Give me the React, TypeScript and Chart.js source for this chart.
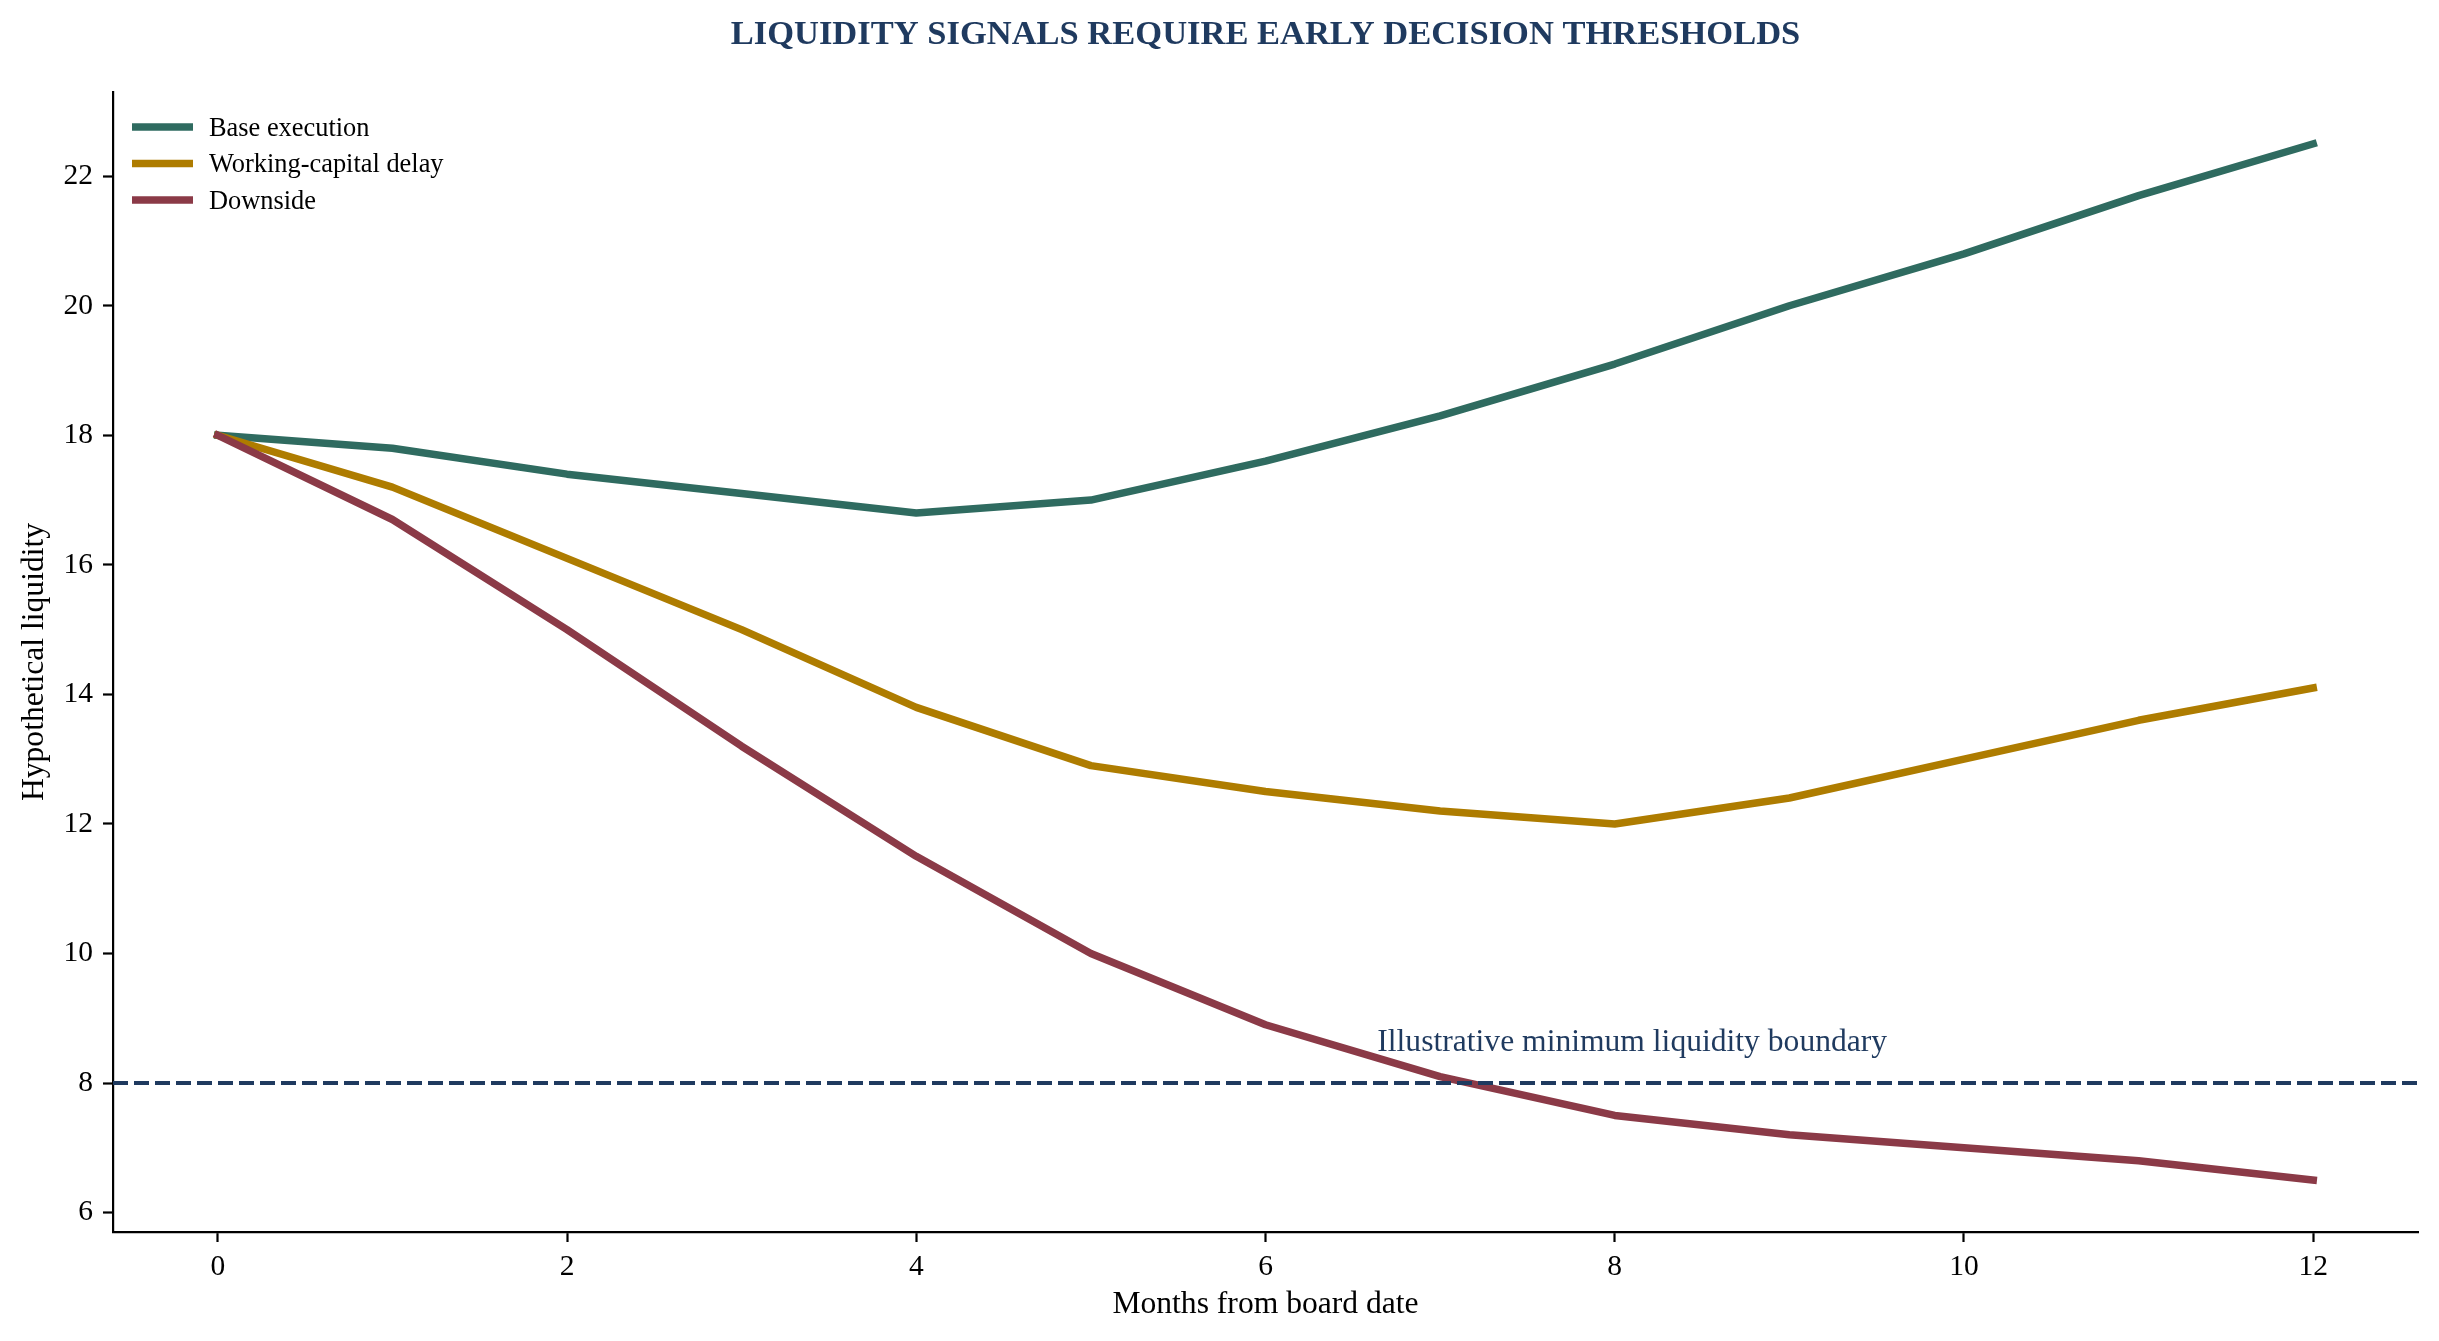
import React, { useEffect, useRef } from "react";
import { Chart, registerables } from "chart.js";

Chart.register(...registerables);

const months = [0, 1, 2, 3, 4, 5, 6, 7, 8, 9, 10, 11, 12];
const baseExecution = [18.0, 17.8, 17.4, 17.1, 16.8, 17.0, 17.6, 18.3, 19.1, 20.0, 20.8, 21.7, 22.5];
const workingCapitalDelay = [18.0, 17.2, 16.1, 15.0, 13.8, 12.9, 12.5, 12.2, 12.0, 12.4, 13.0, 13.6, 14.1];
const downside = [18.0, 16.7, 15.0, 13.2, 11.5, 10.0, 8.9, 8.1, 7.5, 7.2, 7.0, 6.8, 6.5];
const seriesNames = ["Base execution", "Working-capital delay", "Downside"];
const seriesColors = ["#2f6b60", "#ae7c00", "#8b3a47"];
const xTicks = [0, 2, 4, 6, 8, 10, 12];
const yTicks = [6, 8, 10, 12, 14, 16, 18, 20, 22];
const xRange = [-0.6, 12.6];
const yRange = [5.7, 23.3];
const threshold = 8;
const thresholdLabel = "Illustrative minimum liquidity boundary";
const thresholdLabelPos = [8.1, 8.5];
const titleText = "LIQUIDITY SIGNALS REQUIRE EARLY DECISION THRESHOLDS";
const xTitle = "Months from board date";
const yTitle = "Hypothetical liquidity";

const NAVY = "#1f3a5f";
const FONT = "'Liberation Serif', 'Times New Roman', serif";

export default function App() {
  const ref = useRef<HTMLCanvasElement | null>(null);

  useEffect(() => {
    document.body.style.margin = "0";
    document.body.style.overflow = "hidden";
    const canvas = ref.current;
    if (!canvas) return;

    const toPts = (vals: number[]) => vals.map((y, i) => ({ x: months[i], y }));

    const textPlugin = {
      id: "textPlugin",
      afterDraw(chart: any) {
        const ctx = chart.ctx;
        const area = chart.chartArea;
        const xs = chart.scales.x;
        const ys = chart.scales.y;
        ctx.save();
        // title
        ctx.fillStyle = NAVY;
        ctx.font = `bold 34.5px ${FONT}`;
        ctx.textAlign = "center";
        ctx.textBaseline = "alphabetic";
        ctx.fillText(titleText, (area.left + area.right) / 2, 44);
        // axis titles
        ctx.fillStyle = "#000";
        ctx.font = `31.6px ${FONT}`;
        ctx.fillText(xTitle, (area.left + area.right) / 2, 1313);
        ctx.save();
        ctx.translate(43, (area.top + area.bottom) / 2);
        ctx.rotate(-Math.PI / 2);
        ctx.fillText(yTitle, 0, 0);
        ctx.restore();
        // threshold annotation
        ctx.fillStyle = NAVY;
        ctx.font = `31.6px ${FONT}`;
        ctx.textAlign = "center";
        ctx.fillText(
          thresholdLabel,
          xs.getPixelForValue(thresholdLabelPos[0]),
          ys.getPixelForValue(thresholdLabelPos[1])
        );
        // legend
        ctx.font = `26.4px ${FONT}`;
        ctx.textAlign = "left";
        seriesNames.forEach((name, i) => {
          const cy = 127 + i * 36.5;
          ctx.strokeStyle = seriesColors[i];
          ctx.lineWidth = 7.5;
          ctx.lineCap = "butt";
          ctx.beginPath();
          ctx.moveTo(area.left + 19, cy);
          ctx.lineTo(area.left + 80, cy);
          ctx.stroke();
          ctx.fillStyle = "#000";
          ctx.fillText(name, area.left + 96, cy + 8.8);
        });
        ctx.restore();
      },
    };

    const seriesData = [baseExecution, workingCapitalDelay, downside];
    const datasets: any[] = seriesData.map((vals, i) => ({
      label: seriesNames[i],
      data: toPts(vals),
      borderColor: seriesColors[i],
      backgroundColor: seriesColors[i],
      borderWidth: 7.5,
      pointRadius: 0,
      tension: 0,
      fill: false,
      borderCapStyle: "square",
      borderJoinStyle: "round",
      order: 4 - i,
    }));
    datasets.push({
      label: "threshold",
      data: [
        { x: xRange[0], y: threshold },
        { x: xRange[1], y: threshold },
      ],
      borderColor: NAVY,
      borderWidth: 4,
      borderDash: [15, 6],
      pointRadius: 0,
      fill: false,
      order: 0,
    });

    const chart = new Chart(canvas, {
      type: "line",
      data: { datasets },
      plugins: [textPlugin],
      options: {
        animation: false,
        responsive: false,
        devicePixelRatio: 1,
        layout: { padding: { left: 0, top: 92, right: 21, bottom: 0 } },
        plugins: {
          legend: { display: false },
          title: { display: false },
          tooltip: { enabled: false },
        },
        scales: {
          x: {
            type: "linear",
            min: xRange[0],
            max: xRange[1],
            afterBuildTicks: (s: any) => {
              s.ticks = xTicks.map((v) => ({ value: v }));
            },
            afterFit: (s: any) => {
              s.height = 109;
            },
            grid: {
              display: true,
              drawOnChartArea: false,
              drawTicks: true,
              tickLength: 10,
              tickWidth: 2.2,
              tickColor: "#000",
            },
            border: { display: true, color: "#000", width: 2.2 },
            ticks: {
              color: "#000",
              font: { family: FONT, size: 29.5 },
              padding: 8,
              maxRotation: 0,
              autoSkip: false,
            },
          },
          y: {
            type: "linear",
            min: yRange[0],
            max: yRange[1],
            afterBuildTicks: (s: any) => {
              s.ticks = yTicks.map((v) => ({ value: v }));
            },
            afterFit: (s: any) => {
              s.width = 113;
            },
            grid: {
              display: true,
              drawOnChartArea: false,
              drawTicks: true,
              tickLength: 10,
              tickWidth: 2.2,
              tickColor: "#000",
            },
            border: { display: true, color: "#000", width: 2.2 },
            ticks: {
              color: "#000",
              font: { family: FONT, size: 29.5 },
              padding: 10,
              autoSkip: false,
            },
          },
        },
      },
    } as any);

    return () => chart.destroy();
  }, []);

  return (
    <canvas
      ref={ref}
      width={2439}
      height={1341}
      style={{ display: "block", width: 2439, height: 1341 }}
    />
  );
}
